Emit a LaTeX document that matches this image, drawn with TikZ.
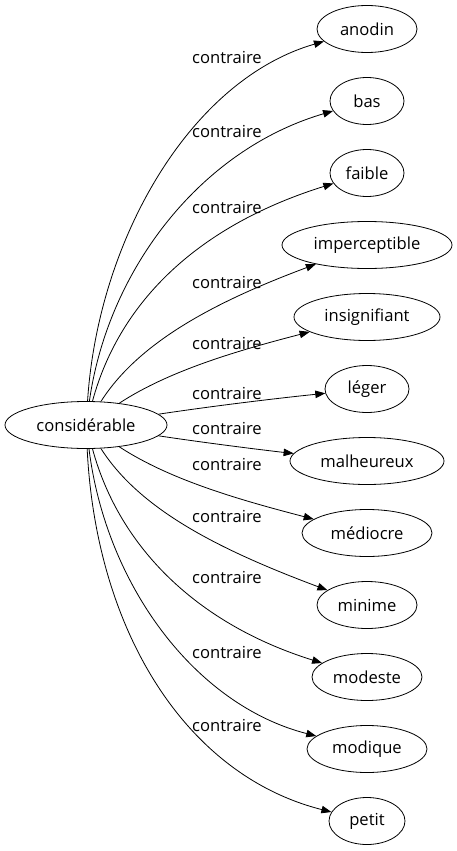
\documentclass[tikz,border=0pt]{standalone}
\usepackage{fontspec}
\setmainfont{Open Sans}
\usetikzlibrary{arrows.meta,shapes.geometric}
\begin{document}
\begin{tikzpicture}[x=1pt,y=-1pt,
  every node/.style={font=\fontsize{16.6}{19}\selectfont},
  el/.style={draw,ellipse,line width=0.8pt,inner sep=0pt,minimum height=47},
  lab/.style={inner sep=0pt},
  edge/.style={draw,line width=0.8pt,-{Triangle[length=10pt,width=7.5pt]}}]
\useasboundingbox (0,0) rectangle (457,851);
\node[el,minimum width=162] (c) at (86,425) {considérable};
\node[el,minimum width=100] (t1) at (367,29) {anodin};
\node[el,minimum width=74] (t2) at (367,101) {bas};
\node[el,minimum width=74] (t3) at (367,173) {faible};
\node[el,minimum width=170] (t4) at (367,245) {imperceptible};
\node[el,minimum width=146] (t5) at (367,317) {insignifiant};
\node[el,minimum width=84] (t6) at (367,389) {léger};
\node[el,minimum width=154] (t7) at (367,461) {malheureux};
\node[el,minimum width=130] (t8) at (367,533) {médiocre};
\node[el,minimum width=100] (t9) at (367,605) {minime};
\node[el,minimum width=110] (t10) at (367,677) {modeste};
\node[el,minimum width=120] (t11) at (367,749) {modique};
\node[el,minimum width=76] (t12) at (367,821) {petit};
\node[lab] (l1) at (227,57) {contraire};
\node[lab] (l2) at (227,131) {contraire};
\node[lab] (l3) at (227,207) {contraire};
\node[lab] (l4) at (227,282) {contraire};
\node[lab] (l5) at (227,343) {contraire};
\node[lab] (l6) at (227,393) {contraire};
\node[lab] (l7) at (227,428) {contraire};
\node[lab] (l8) at (227,464) {contraire};
\node[lab] (l9) at (227,516) {contraire};
\node[lab] (l10) at (227,577) {contraire};
\node[lab] (l11) at (227,652) {contraire};
\node[lab] (l12) at (227,725) {contraire};
\path[edge] (c) .. controls (98,240) and (190,80) .. (t1);
\path[edge] (c) .. controls (108,270) and (200,150) .. (t2);
\path[edge] (c) .. controls (120,300) and (200,225) .. (t3);
\path[edge] (c) .. controls (140,340) and (220,300) .. (t4);
\path[edge] (c) .. controls (170,370) and (240,350) .. (t5);
\path[edge] (c) .. controls (220,405) and (280,398) .. (t6);
\path[edge] (c) .. controls (220,445) and (280,452) .. (t7);
\path[edge] (c) .. controls (170,480) and (240,500) .. (t8);
\path[edge] (c) .. controls (140,510) and (220,550) .. (t9);
\path[edge] (c) .. controls (120,550) and (200,625) .. (t10);
\path[edge] (c) .. controls (106,585) and (195,705) .. (t11);
\path[edge] (c) .. controls (96,630) and (185,775) .. (t12);
\end{tikzpicture}
\end{document}
